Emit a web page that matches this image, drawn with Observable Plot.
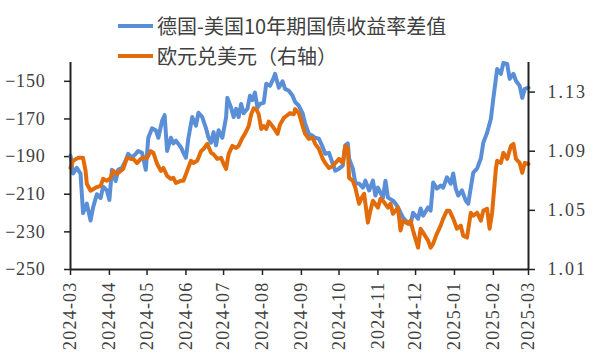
<!DOCTYPE html>
<html>
<head>
<meta charset="utf-8">
<script src="https://cdn.jsdelivr.net/npm/d3@7"></script>
<script src="https://cdn.jsdelivr.net/npm/@observablehq/plot@0.6"></script>
<style>
  html, body { margin: 0; padding: 0; background: #fff; }
  #wrap { position: relative; width: 599px; height: 363px; }
  #legend { position: absolute; left: 0; top: 0; font-family: "Noto Sans CJK SC", sans-serif; font-size: 20px; color: #404040; }
  .item { position: absolute; white-space: nowrap; display: flex; align-items: center; }
  .sw { width: 35px; height: 4px; margin-right: 4px; }
  #chart svg text { font-size: 18px; font-family: "Liberation Serif", serif; fill: #404040; }
  #chart svg .lsl text { letter-spacing: 0.8px; }
  #chart svg .lsr text { letter-spacing: 2px; }
  #chart svg .lsx text { letter-spacing: 1.2px; }
</style>
</head>
<body>
<div id="wrap">
  <div id="chart"></div>
  <div id="legend"></div>
</div>
<script>
const seriesNames = ["德国-美国10年期国债收益率差值", "欧元兑美元（右轴）"];
const seriesColors = ["#5a8fd8", "#e36c0a"];

const spreadDates = ["2024-03-01","2024-03-03","2024-03-06","2024-03-09","2024-03-11","2024-03-14","2024-03-17","2024-03-19","2024-03-22","2024-03-25","2024-03-27","2024-03-30","2024-04-01","2024-04-03","2024-04-06","2024-04-08","2024-04-11","2024-04-14","2024-04-16","2024-04-19","2024-04-22","2024-04-24","2024-04-27","2024-04-30","2024-05-02","2024-05-05","2024-05-08","2024-05-10","2024-05-13","2024-05-15","2024-05-17","2024-05-20","2024-05-22","2024-05-24","2024-05-28","2024-05-30","2024-06-01","2024-06-03","2024-06-06","2024-06-09","2024-06-11","2024-06-14","2024-06-17","2024-06-19","2024-06-21","2024-06-23","2024-06-25","2024-06-27","2024-06-30","2024-07-03","2024-07-04","2024-07-07","2024-07-09","2024-07-11","2024-07-13","2024-07-15","2024-07-17","2024-07-20","2024-07-22","2024-07-24","2024-07-26","2024-07-28","2024-07-30","2024-08-02","2024-08-04","2024-08-07","2024-08-10","2024-08-11","2024-08-14","2024-08-17","2024-08-19","2024-08-22","2024-08-25","2024-08-27","2024-08-30","2024-09-02","2024-09-04","2024-09-07","2024-09-10","2024-09-12","2024-09-15","2024-09-18","2024-09-20","2024-09-23","2024-09-26","2024-09-28","2024-10-01","2024-10-04","2024-10-06","2024-10-08","2024-10-09","2024-10-12","2024-10-14","2024-10-17","2024-10-20","2024-10-22","2024-10-25","2024-10-28","2024-10-30","2024-11-01","2024-11-05","2024-11-07","2024-11-09","2024-11-13","2024-11-15","2024-11-17","2024-11-21","2024-11-23","2024-11-25","2024-11-27","2024-11-29","2024-12-03","2024-12-05","2024-12-07","2024-12-11","2024-12-13","2024-12-15","2024-12-18","2024-12-21","2024-12-23","2024-12-26","2024-12-29","2024-12-31","2025-01-02","2025-01-04","2025-01-07","2025-01-10","2025-01-12","2025-01-14","2025-01-16","2025-01-19","2025-01-22","2025-01-24","2025-01-27","2025-01-30","2025-02-01","2025-02-03","2025-02-04","2025-02-07","2025-02-09","2025-02-12","2025-02-14","2025-02-17","2025-02-19","2025-02-22","2025-02-24","2025-02-26","2025-03-01"];
const spreadValues = [-189.5,-199,-196,-199,-220,-215,-224,-217,-210,-212,-206,-208,-213,-197,-203,-197,-196,-192,-188.5,-190.6,-188.5,-187,-188,-197,-180,-175,-176,-180,-171,-168,-187,-180,-183,-181.5,-185,-188,-190.6,-180,-169,-173.6,-166.7,-169,-175,-180,-182.6,-177,-184,-176,-180,-169,-158.8,-164,-169,-164.6,-169,-162,-167,-164.6,-157.7,-160,-156,-164,-162,-161.4,-151.3,-152.4,-148,-146,-153.4,-150,-154,-155,-157.7,-161,-163,-167,-172.5,-178,-179,-180,-180.5,-185,-188.5,-188,-193.8,-197.5,-196.4,-194.8,-184,-183,-191,-196.4,-204,-204.4,-206.5,-202.8,-208,-202.8,-210.7,-206.5,-211.8,-202.8,-211.8,-213.4,-215,-217,-222.4,-224,-225,-226,-219.8,-223,-217.6,-221.4,-217,-218.7,-203.8,-207,-205.4,-206.5,-201,-204.4,-199,-207,-210.7,-208,-213.4,-215,-206.5,-198.5,-196.4,-191,-182.6,-177.3,-170,-159,-148.7,-143.4,-146,-140.2,-140.7,-148.7,-146,-149.7,-152.4,-158.8,-154,-153.4];

const eurDates = ["2024-03-01","2024-03-03","2024-03-07","2024-03-11","2024-03-13","2024-03-14","2024-03-17","2024-03-21","2024-03-25","2024-03-27","2024-03-30","2024-04-02","2024-04-04","2024-04-07","2024-04-10","2024-04-12","2024-04-15","2024-04-18","2024-04-20","2024-04-23","2024-04-26","2024-04-28","2024-05-01","2024-05-04","2024-05-06","2024-05-09","2024-05-12","2024-05-14","2024-05-17","2024-05-20","2024-05-22","2024-05-24","2024-05-28","2024-05-30","2024-06-02","2024-06-05","2024-06-07","2024-06-10","2024-06-13","2024-06-15","2024-06-18","2024-06-21","2024-06-23","2024-06-26","2024-06-29","2024-07-01","2024-07-03","2024-07-05","2024-07-08","2024-07-11","2024-07-13","2024-07-16","2024-07-18","2024-07-21","2024-07-23","2024-07-25","2024-07-27","2024-07-29","2024-07-31","2024-08-02","2024-08-04","2024-08-06","2024-08-08","2024-08-10","2024-08-13","2024-08-15","2024-08-18","2024-08-20","2024-08-23","2024-08-26","2024-08-27","2024-08-30","2024-09-02","2024-09-04","2024-09-07","2024-09-10","2024-09-12","2024-09-15","2024-09-18","2024-09-20","2024-09-23","2024-09-26","2024-09-28","2024-10-01","2024-10-04","2024-10-06","2024-10-08","2024-10-09","2024-10-12","2024-10-14","2024-10-17","2024-10-19","2024-10-21","2024-10-24","2024-10-26","2024-10-28","2024-11-01","2024-11-03","2024-11-05","2024-11-09","2024-11-11","2024-11-13","2024-11-17","2024-11-19","2024-11-21","2024-11-25","2024-11-27","2024-11-29","2024-12-03","2024-12-05","2024-12-07","2024-12-11","2024-12-13","2024-12-15","2024-12-18","2024-12-21","2024-12-23","2024-12-26","2024-12-28","2024-12-31","2025-01-03","2025-01-06","2025-01-08","2025-01-11","2025-01-14","2025-01-16","2025-01-19","2025-01-22","2025-01-24","2025-01-27","2025-01-29","2025-01-31","2025-02-03","2025-02-04","2025-02-07","2025-02-09","2025-02-12","2025-02-15","2025-02-17","2025-02-19","2025-02-22","2025-02-24","2025-02-26","2025-03-01"];
const eurValues = [1.0787,1.0835,1.0855,1.0855,1.0767,1.068,1.0633,1.0653,1.0666,1.0713,1.070,1.072,1.0767,1.0747,1.0767,1.078,1.0855,1.0848,1.0848,1.082,1.0848,1.0855,1.0855,1.090,1.089,1.0815,1.0767,1.0787,1.0733,1.0713,1.072,1.0686,1.070,1.070,1.0767,1.0835,1.082,1.0835,1.090,1.0915,1.095,1.089,1.088,1.0848,1.0855,1.0815,1.078,1.088,1.0936,1.0922,1.0936,1.099,1.1017,1.107,1.115,1.119,1.1185,1.115,1.105,1.107,1.105,1.110,1.108,1.1057,1.1017,1.108,1.1125,1.1138,1.1158,1.115,1.1185,1.1158,1.107,1.1017,1.0983,1.099,1.095,1.0915,1.0848,1.082,1.0787,1.080,1.082,1.0848,1.082,1.0936,1.0922,1.072,1.070,1.0653,1.0545,1.0585,1.0612,1.0417,1.0498,1.0565,1.0518,1.0578,1.0565,1.0518,1.0545,1.0477,1.0518,1.0363,1.043,1.041,1.043,1.0363,1.0248,1.0376,1.0349,1.0295,1.0248,1.0275,1.0343,1.0397,1.0444,1.0498,1.0498,1.0444,1.0376,1.0397,1.0329,1.0316,1.0484,1.0464,1.0484,1.0430,1.0498,1.0511,1.0376,1.0484,1.0781,1.0835,1.0821,1.0889,1.0848,1.0936,1.0949,1.0848,1.0821,1.0754,1.0821,1.0814];

const leftTicks = [-250, -230, -210, -190, -170, -150];
const rightTicks = [1.01, 1.05, 1.09, 1.13];
const xTickLabels = ["2024-03","2024-04","2024-05","2024-06","2024-07","2024-08","2024-09","2024-10","2024-11","2024-12","2025-01","2025-02","2025-03"];

const leftDomain = [-250, -140];
const rightDomain = [1.01, 1.15];
const toLeft = d3.scaleLinear().domain(rightDomain).range(leftDomain);

const parse = d3.utcParse("%Y-%m-%d");
const parseM = d3.utcParse("%Y-%m");
const spread = spreadDates.map((d, i) => ({date: parse(d), value: spreadValues[i]}));
const eur = eurDates.map((d, i) => ({date: parse(d), value: eurValues[i]}));
const xTicks = xTickLabels.map(parseM);

const chart = Plot.plot({
  width: 599,
  height: 363,
  marginTop: 62,
  marginBottom: 94,
  marginLeft: 70,
  marginRight: 71,
  style: {fontFamily: "Liberation Serif, serif", fontSize: "18px", color: "#404040", background: "#fff"},
  x: {type: "utc", domain: [xTicks[0], xTicks[xTicks.length - 1]]},
  y: {domain: leftDomain},
  marks: [
    Plot.axisY({ticks: leftTicks, tickSize: 6, tickPadding: 19, label: null, tickFormat: d3.format("d"),
      stroke: "#222", strokeWidth: 1.5, className: "lsl"}),
    Plot.axisY({anchor: "right", ticks: rightTicks.map(toLeft), tickSize: 6, tickPadding: 13, label: null,
      tickFormat: v => toLeft.invert(v).toFixed(2), stroke: "#222", strokeWidth: 1.5, className: "lsr"}),
    Plot.axisX({ticks: xTicks, tickSize: 6, tickPadding: 6, tickRotate: -90, label: null,
      tickFormat: (d, i) => xTickLabels[i], stroke: "#222", strokeWidth: 1.5, className: "lsx"}),
    Plot.line(spread, {x: "date", y: "value", stroke: seriesColors[0], strokeWidth: 4, curve: "linear"}),
    Plot.line(eur, {x: "date", y: d => toLeft(d.value), stroke: seriesColors[1], strokeWidth: 4, curve: "linear"}),
    Plot.ruleY([leftDomain[0]], {stroke: "#222", strokeWidth: 2}),
    Plot.ruleX([xTicks[0]], {stroke: "#222", strokeWidth: 2}),
    Plot.ruleX([xTicks[xTicks.length - 1]], {stroke: "#222", strokeWidth: 2})
  ]
});
document.getElementById("chart").appendChild(chart);

const legend = document.getElementById("legend");
const tops = [11, 41];
seriesNames.forEach((name, i) => {
  const item = document.createElement("div");
  item.className = "item";
  item.style.left = "118px";
  item.style.top = tops[i] + "px";
  item.innerHTML = `<span class="sw" style="background:${seriesColors[i]}"></span><span>${name}</span>`;
  legend.appendChild(item);
});
</script>
</body>
</html>
